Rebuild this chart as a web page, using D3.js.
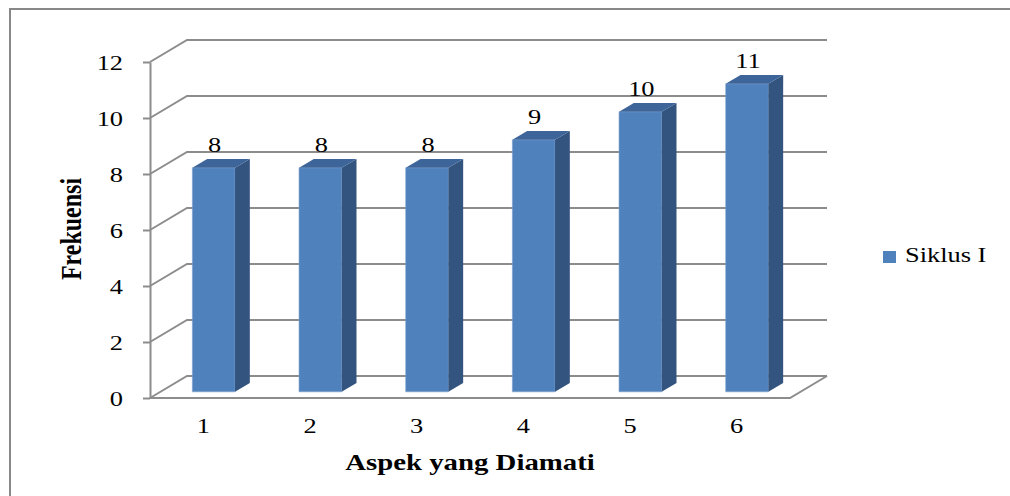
<!DOCTYPE html>
<html>
<head>
<meta charset="utf-8">
<script src="https://cdn.jsdelivr.net/npm/d3@7"></script>
<style>
  body { margin: 0; background: #fff; }
</style>
</head>
<body>
<div id="vis"></div>
<script>
// data
const CATEGORIES = ["1", "2", "3", "4", "5", "6"];
const SIKLUS_I = [8, 8, 8, 9, 10, 11];
const Y_TICKS = [0, 2, 4, 6, 8, 10, 12];
const SERIES_NAME = "Siklus I";
const X_TITLE = "Aspek yang Diamati";
const Y_TITLE = "Frekuensi";

const WIDTH = 1010;
const HEIGHT = 496;
const PLOT = {left: 150, right: 790, top: 62, bottom: 398};
const DEPTH = {dx: 37, dy: -22};      // 3d offset of the back wall
const BAR_DEPTH = [0.28, 0.68];      // front / back of the bars, as fraction of depth
const SX = 1.2;                      // the picture is stretched sideways
const FONT = "Liberation Serif, DejaVu Serif, serif";

const GRID = "#8c8c8c";

const svg = d3.select("#vis")
    .append("svg")
        .attr("width", WIDTH)
        .attr("height", HEIGHT)
        .attr("font-family", FONT);

// outer frame (only top and left visible in the picture)
svg.append("path")
    .attr("d", "M10,496V9H1010")
    .attr("fill", "none")
    .attr("stroke", "#888")
    .attr("stroke-width", 2);

const X_SCALE = d3.scaleBand()
    .domain(CATEGORIES)
    .range([PLOT.left, PLOT.right])
    .paddingInner(0.6)
    .paddingOuter(0.3);

const Y_SCALE = d3.scaleLinear()
    .domain([0, 12])
    .range([PLOT.bottom, PLOT.top]);

// project a point given front x, value and depth fraction
function proj(x, v, f) {
    return [x + f * DEPTH.dx, Y_SCALE(v) + f * DEPTH.dy];
}

// back wall gridlines + left wall diagonals
const grid = svg.append("g")
    .attr("fill", "none")
    .attr("stroke", GRID)
    .attr("stroke-width", 2);

grid.selectAll(".gl")
    .data(Y_TICKS)
    .enter()
    .append("path")
        .attr("d", (d) => {
            const a = proj(PLOT.left, d, 0);
            const b = proj(PLOT.left, d, 1);
            const c = proj(PLOT.right, d, 1);
            return "M" + a + "L" + b + "L" + c;
        });

// floor front edge and right diagonal
const f0 = proj(PLOT.left, 0, 0), f1 = proj(PLOT.right, 0, 0), f2 = proj(PLOT.right, 0, 1);
grid.append("path").attr("d", "M" + f0 + "L" + f1 + "L" + f2);

// y axis
const yAxis = svg.append("g")
    .attr("transform", "translate(" + PLOT.left + ",0)")
    .call(d3.axisLeft(Y_SCALE).tickValues(Y_TICKS).tickSize(7).tickSizeOuter(0).tickPadding(0))
    .attr("font-family", FONT)
    .attr("font-size", 22);
yAxis.select(".domain").attr("stroke", GRID).attr("stroke-width", 2);
yAxis.selectAll(".tick line").attr("stroke", GRID).attr("stroke-width", 2);
yAxis.selectAll(".tick text")
    .attr("x", -27 / SX)
    .attr("dy", "0.33em")
    .attr("transform", "scale(" + SX + ",1)")
    .attr("fill", "#000");

// bars
const bars = svg.selectAll(".bar")
    .data(SIKLUS_I)
    .enter()
    .append("g")
        .attr("class", "bar");

function poly(pts) { return "M" + pts.join("L") + "Z"; }

bars.append("path")   // front
    .attr("d", (d, i) => {
        const x1 = X_SCALE(CATEGORIES[i]), x2 = x1 + X_SCALE.bandwidth(), f = BAR_DEPTH[0];
        return poly([proj(x1, 0, f), proj(x2, 0, f), proj(x2, d, f), proj(x1, d, f)]);
    })
    .attr("fill", "#4f81bd")
    .attr("stroke", "#7fa2cf")
    .attr("stroke-width", 0.6);

bars.append("path")   // side
    .attr("d", (d, i) => {
        const x2 = X_SCALE(CATEGORIES[i]) + X_SCALE.bandwidth();
        const f = BAR_DEPTH[0], b = BAR_DEPTH[1];
        return poly([proj(x2, 0, f), proj(x2, 0, b), proj(x2, d, b), proj(x2, d, f)]);
    })
    .attr("fill", "#33547e");

bars.append("path")   // top
    .attr("d", (d, i) => {
        const x1 = X_SCALE(CATEGORIES[i]), x2 = x1 + X_SCALE.bandwidth();
        const f = BAR_DEPTH[0], b = BAR_DEPTH[1];
        return poly([proj(x1, d, f), proj(x2, d, f), proj(x2, d, b), proj(x1, d, b)]);
    })
    .attr("fill", "#3d659a");

// value labels, centred over the front face, just above the top
bars.append("text")
    .attr("transform", (d, i) => {
        const cx = X_SCALE(CATEGORIES[i]) + X_SCALE.bandwidth() / 2;
        const px = proj(cx, d, BAR_DEPTH[0])[0] + 1;
        const py = proj(cx, d, BAR_DEPTH[1])[1] - 7;
        return "translate(" + px + "," + py + ") scale(" + SX + ",1)";
    })
    .attr("text-anchor", "middle")
    .attr("font-size", 22)
    .text((d) => d);

// category labels
svg.selectAll(".xlab")
    .data(CATEGORIES)
    .enter()
    .append("text")
        .attr("transform", (d) => "translate(" + (X_SCALE(d) + X_SCALE.bandwidth() / 2) + ",433) scale(" + SX + ",1)")
        .attr("text-anchor", "middle")
        .attr("font-size", 22)
        .text((d) => d);

// axis titles
svg.append("text")
    .attr("transform", "translate(470,470) scale(" + SX + ",1)")
    .attr("text-anchor", "middle")
    .attr("font-size", 24)
    .attr("font-weight", "bold")
    .text(X_TITLE);

svg.append("text")
    .attr("transform", "translate(81,229) scale(" + SX + ",1) rotate(-90)")
    .attr("text-anchor", "middle")
    .attr("font-size", 24)
    .attr("font-weight", "bold")
    .text(Y_TITLE);

// legend
const legend = svg.append("g").attr("transform", "translate(883,251)");
legend.append("rect")
    .attr("width", 13)
    .attr("height", 12)
    .attr("fill", "#4f81bd");
legend.append("text")
    .attr("transform", "translate(22,11) scale(" + SX + ",1)")
    .attr("font-size", 22)
    .text(SERIES_NAME);
</script>
</body>
</html>
